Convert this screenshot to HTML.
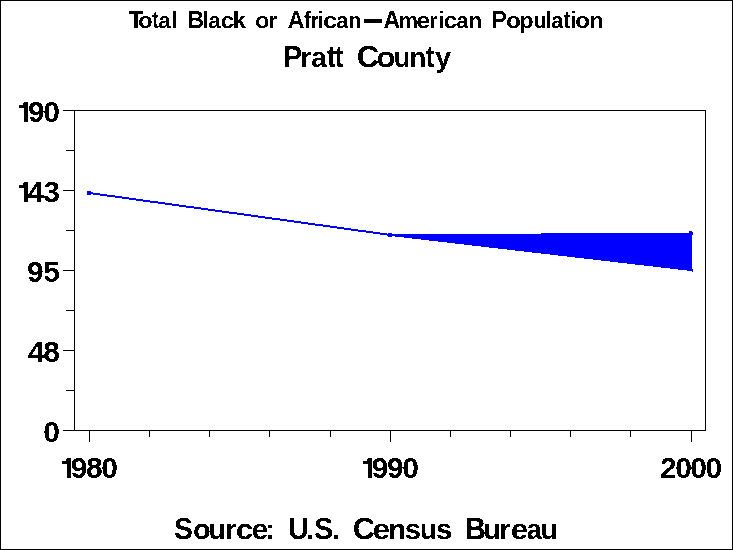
<!DOCTYPE html>
<html><head><meta charset="utf-8"><title>Total Black or African-American Population - Pratt County</title>
<style>html,body{margin:0;padding:0;background:#fff;}svg{display:block;}text{font-family:"Liberation Sans",sans-serif;font-weight:bold;fill:#000;}.gp text{text-rendering:geometricPrecision;}</style></head><body>
<svg width="733" height="550" viewBox="0 0 733 550">
<rect x="0" y="0" width="733" height="550" fill="#fff"/>
<g id="lines" shape-rendering="crispEdges" fill="#000">
<rect x="0" y="0" width="733" height="1"/><rect x="0" y="549" width="733" height="1"/><rect x="0" y="0" width="1" height="550"/><rect x="732" y="0" width="1" height="550"/>
<rect x="74" y="110" width="632" height="1"/><rect x="74" y="430" width="632" height="1"/><rect x="74" y="110" width="1" height="321"/><rect x="705" y="110" width="1" height="321"/>
<rect x="63" y="110" width="11" height="1"/>
<rect x="66" y="150" width="8" height="1"/>
<rect x="63" y="190" width="11" height="1"/>
<rect x="66" y="230" width="8" height="1"/>
<rect x="63" y="270" width="11" height="1"/>
<rect x="66" y="310" width="8" height="1"/>
<rect x="63" y="350" width="11" height="1"/>
<rect x="66" y="390" width="8" height="1"/>
<rect x="63" y="430" width="11" height="1"/>
<rect x="89" y="431" width="1" height="11"/>
<rect x="149" y="431" width="1" height="6"/>
<rect x="209" y="431" width="1" height="6"/>
<rect x="269" y="431" width="1" height="6"/>
<rect x="330" y="431" width="1" height="6"/>
<rect x="390" y="431" width="1" height="11"/>
<rect x="450" y="431" width="1" height="6"/>
<rect x="510" y="431" width="1" height="6"/>
<rect x="570" y="431" width="1" height="6"/>
<rect x="630" y="431" width="1" height="6"/>
<rect x="691" y="431" width="1" height="11"/>
<rect x="364" y="19" width="18" height="4"/>
<polygon points="19.0,105.0 22.2,105.0 24.3,102.0 28.0,102.0 28.0,122.0 24.0,122.0 24.0,108.0 19.0,108.0"/>
<polygon points="19.0,185.0 22.2,185.0 24.3,182.0 28.0,182.0 28.0,202.0 24.0,202.0 24.0,188.0 19.0,188.0"/>
<polygon points="62.0,461.0 65.2,461.0 67.3,458.0 71.0,458.0 71.0,478.0 67.0,478.0 67.0,464.0 62.0,464.0"/>
<polygon points="363.0,461.0 366.2,461.0 368.3,458.0 372.0,458.0 372.0,478.0 368.0,478.0 368.0,464.0 363.0,464.0"/>
</g>
<g id="data" shape-rendering="crispEdges" fill="#0000ff">
<polygon points="390,234 541,234 541,233 692,233 692,271.08 390,235.92"/>
<polygon points="89,191.943 390,233.894 390,235.894 89,193.943"/>
<rect x="87" y="191" width="4" height="4"/><rect x="388" y="233" width="4" height="4"/><rect x="689" y="231" width="3" height="2"/><rect x="692" y="232" width="1" height="3"/><rect x="692" y="269" width="1" height="3"/>
</g>
<defs><filter id="thr" x="0" y="0" width="733" height="550" filterUnits="userSpaceOnUse" color-interpolation-filters="sRGB"><feComponentTransfer><feFuncA type="discrete" tableValues="0 1"/></feComponentTransfer></filter></defs>
<g id="txt" filter="url(#thr)">
<g class="w gp" id="t1a">
<text transform="matrix(0.9773 0 0 1.0086 128.63 28)" font-size="24.5">T</text>
<text transform="matrix(1.0691 0 0 1.0000 137.97 28)" font-size="22.3">o</text>
<text transform="matrix(0.8864 0 0 1.0999 152.26 28)" font-size="22.3">t</text>
<text transform="matrix(1.0008 0 0 1.0000 158.35 28)" font-size="22.3">a</text>
<text transform="matrix(0.9151 0 0 1.0521 171.98 28)" font-size="22.3">l</text>
</g>
<g class="w gp" id="t1b">
<text transform="matrix(0.9330 0 0 1.0086 187.53 28)" font-size="24.5">B</text>
<text transform="matrix(0.9805 0 0 1.0521 202.67 28)" font-size="22.3">l</text>
<text transform="matrix(1.0092 0 0 1.0000 208.24 28)" font-size="22.3">a</text>
<text transform="matrix(1.1216 0 0 1.0000 220.42 28)" font-size="22.3">c</text>
<text transform="matrix(1.0951 0 0 1.0521 232.49 28)" font-size="22.3">k</text>
</g>
<g class="w gp" id="t1c">
<text transform="matrix(1.0556 0 0 1.0000 255.04 28)" font-size="22.3">o</text>
<text transform="matrix(1.0334 0 0 1.0000 268.18 28)" font-size="22.3">r</text>
</g>
<g class="w gp" id="t1d">
<text transform="matrix(0.9369 0 0 1.0086 287.63 28)" font-size="24.5">A</text>
<text transform="matrix(0.9452 0 0 1.0521 303.94 28)" font-size="22.3">f</text>
<text transform="matrix(0.9169 0 0 1.0000 310.65 28)" font-size="22.3">r</text>
<text transform="matrix(0.9805 0 0 1.0521 317.57 28)" font-size="22.3">i</text>
<text transform="matrix(1.1491 0 0 1.0000 322.90 28)" font-size="22.3">c</text>
<text transform="matrix(0.9756 0 0 1.0000 336.16 28)" font-size="22.3">a</text>
<text transform="matrix(0.9565 0 0 1.0000 348.49 28)" font-size="22.3">n</text>
</g>
<g class="w gp" id="t1e">
<text transform="matrix(0.9430 0 0 1.0086 383.52 28)" font-size="24.5">A</text>
<text transform="matrix(0.9661 0 0 1.0000 398.68 28)" font-size="22.3">m</text>
<text transform="matrix(1.1422 0 0 1.0000 416.31 28)" font-size="22.3">e</text>
<text transform="matrix(1.0043 0 0 1.0000 429.12 28)" font-size="22.3">r</text>
<text transform="matrix(0.9805 0 0 1.0521 438.37 28)" font-size="22.3">i</text>
<text transform="matrix(1.1307 0 0 1.0000 443.42 28)" font-size="22.3">c</text>
<text transform="matrix(0.9503 0 0 1.0000 456.58 28)" font-size="22.3">a</text>
<text transform="matrix(0.9750 0 0 1.0000 468.87 28)" font-size="22.3">n</text>
</g>
<g class="w gp" id="t1f">
<text transform="matrix(0.9448 0 0 1.0086 491.45 28)" font-size="24.5">P</text>
<text transform="matrix(1.0943 0 0 1.0000 506.05 28)" font-size="22.3">o</text>
<text transform="matrix(1.0323 0 0 1.0000 519.58 28)" font-size="22.3">p</text>
<text transform="matrix(0.9100 0 0 1.0000 533.94 28)" font-size="22.3">u</text>
<text transform="matrix(0.9478 0 0 1.0521 545.52 28)" font-size="22.3">l</text>
<text transform="matrix(1.0008 0 0 1.0000 551.05 28)" font-size="22.3">a</text>
<text transform="matrix(0.8574 0 0 1.0999 563.77 28)" font-size="22.3">t</text>
<text transform="matrix(0.8824 0 0 1.0521 571.03 28)" font-size="22.3">i</text>
<text transform="matrix(1.0859 0 0 1.0000 575.15 28)" font-size="22.3">o</text>
<text transform="matrix(1.0493 0 0 1.0000 589.26 28)" font-size="22.3">n</text>
</g>
<g class="w gp" id="t2a">
<text transform="matrix(0.9386 0 0 1.0008 283.09 67)" font-size="30.5">P</text>
<text transform="matrix(1.0057 0 0 1.0000 300.32 67)" font-size="28.4">r</text>
<text transform="matrix(0.9774 0 0 1.0000 311.19 67)" font-size="28.4">a</text>
<text transform="matrix(0.9242 0 0 1.0795 326.98 67)" font-size="28.4">t</text>
<text transform="matrix(0.8672 0 0 1.0795 335.10 67)" font-size="28.4">t</text>
</g>
<g class="w gp" id="t2b">
<text transform="matrix(1.0155 0 0 1.0008 356.78 67)" font-size="30.5">C</text>
<text transform="matrix(1.0906 0 0 1.0000 376.49 67)" font-size="28.4">o</text>
<text transform="matrix(0.9552 0 0 1.0000 393.72 67)" font-size="28.4">u</text>
<text transform="matrix(0.9843 0 0 1.0000 409.16 67)" font-size="28.4">n</text>
<text transform="matrix(0.8672 0 0 1.0795 425.90 67)" font-size="28.4">t</text>
<text transform="matrix(1.0246 0 0 1.0000 434.97 67)" font-size="28.4">y</text>
</g>
<g class="w gp" id="f1">
<text transform="matrix(0.9303 0 0 1.0008 174.08 539)" font-size="30.5">S</text>
<text transform="matrix(1.0245 0 0 1.0000 192.96 539)" font-size="28.4">o</text>
<text transform="matrix(0.9916 0 0 1.0000 208.55 539)" font-size="28.4">u</text>
<text transform="matrix(1.0285 0 0 1.0000 225.07 539)" font-size="28.4">r</text>
<text transform="matrix(1.1116 0 0 1.0000 235.77 539)" font-size="28.4">c</text>
<text transform="matrix(1.0427 0 0 1.0000 251.64 539)" font-size="28.4">e</text>
<text transform="matrix(1.0266 0 0 1.0000 265.30 539)" font-size="28.4">:</text>
</g>
<g class="w gp" id="f2">
<text transform="matrix(0.9273 0 0 1.0008 288.30 539)" font-size="30.5">U</text>
<text transform="matrix(0.9981 0 0 1.0000 306.08 539)" font-size="28.4">.</text>
<text transform="matrix(0.9303 0 0 1.0008 314.18 539)" font-size="30.5">S</text>
<text transform="matrix(0.9981 0 0 1.0000 332.08 539)" font-size="28.4">.</text>
</g>
<g class="w gp" id="f3">
<text transform="matrix(1.0130 0 0 1.0008 352.63 539)" font-size="30.5">C</text>
<text transform="matrix(1.1229 0 0 1.0000 372.45 539)" font-size="28.4">e</text>
<text transform="matrix(1.0427 0 0 1.0000 388.15 539)" font-size="28.4">n</text>
<text transform="matrix(1.0344 0 0 1.0000 404.87 539)" font-size="28.4">s</text>
<text transform="matrix(1.0062 0 0 1.0000 419.63 539)" font-size="28.4">u</text>
<text transform="matrix(1.0344 0 0 1.0000 435.97 539)" font-size="28.4">s</text>
</g>
<g class="w gp" id="f4">
<text transform="matrix(0.9569 0 0 1.0008 464.95 539)" font-size="30.5">B</text>
<text transform="matrix(1.0135 0 0 1.0000 483.32 539)" font-size="28.4">u</text>
<text transform="matrix(1.0285 0 0 1.0000 499.17 539)" font-size="28.4">r</text>
<text transform="matrix(1.1010 0 0 1.0000 510.78 539)" font-size="28.4">e</text>
<text transform="matrix(0.9443 0 0 1.0000 526.71 539)" font-size="28.4">a</text>
<text transform="matrix(1.0135 0 0 1.0000 540.42 539)" font-size="28.4">u</text>
</g>
<g class="w" id="y190"><text x="28.00" y="122" font-size="30" textLength="32.00" lengthAdjust="spacing">90</text></g>
<g class="w" id="y143"><text x="27.60" y="202" font-size="30" textLength="32.40" lengthAdjust="spacing">43</text></g>
<g class="w" id="y95"><text x="27.00" y="282" font-size="30" textLength="33.00" lengthAdjust="spacing">95</text></g>
<g class="w" id="y48"><text x="27.80" y="362" font-size="30" textLength="32.20" lengthAdjust="spacing">48</text></g>
<g class="w" id="y0"><text x="43.30" y="442" font-size="30" textLength="16.70" lengthAdjust="spacing">0</text></g>
<g class="w" id="x1980"><text x="70.70" y="478" font-size="30" textLength="47.30" lengthAdjust="spacing">980</text></g>
<g class="w" id="x1990"><text x="371.70" y="478" font-size="30" textLength="47.30" lengthAdjust="spacing">990</text></g>
<g class="w" id="x2000"><text x="660.00" y="478" font-size="30" textLength="62.10" lengthAdjust="spacing">2000</text></g>
</g>
</svg></body></html>
